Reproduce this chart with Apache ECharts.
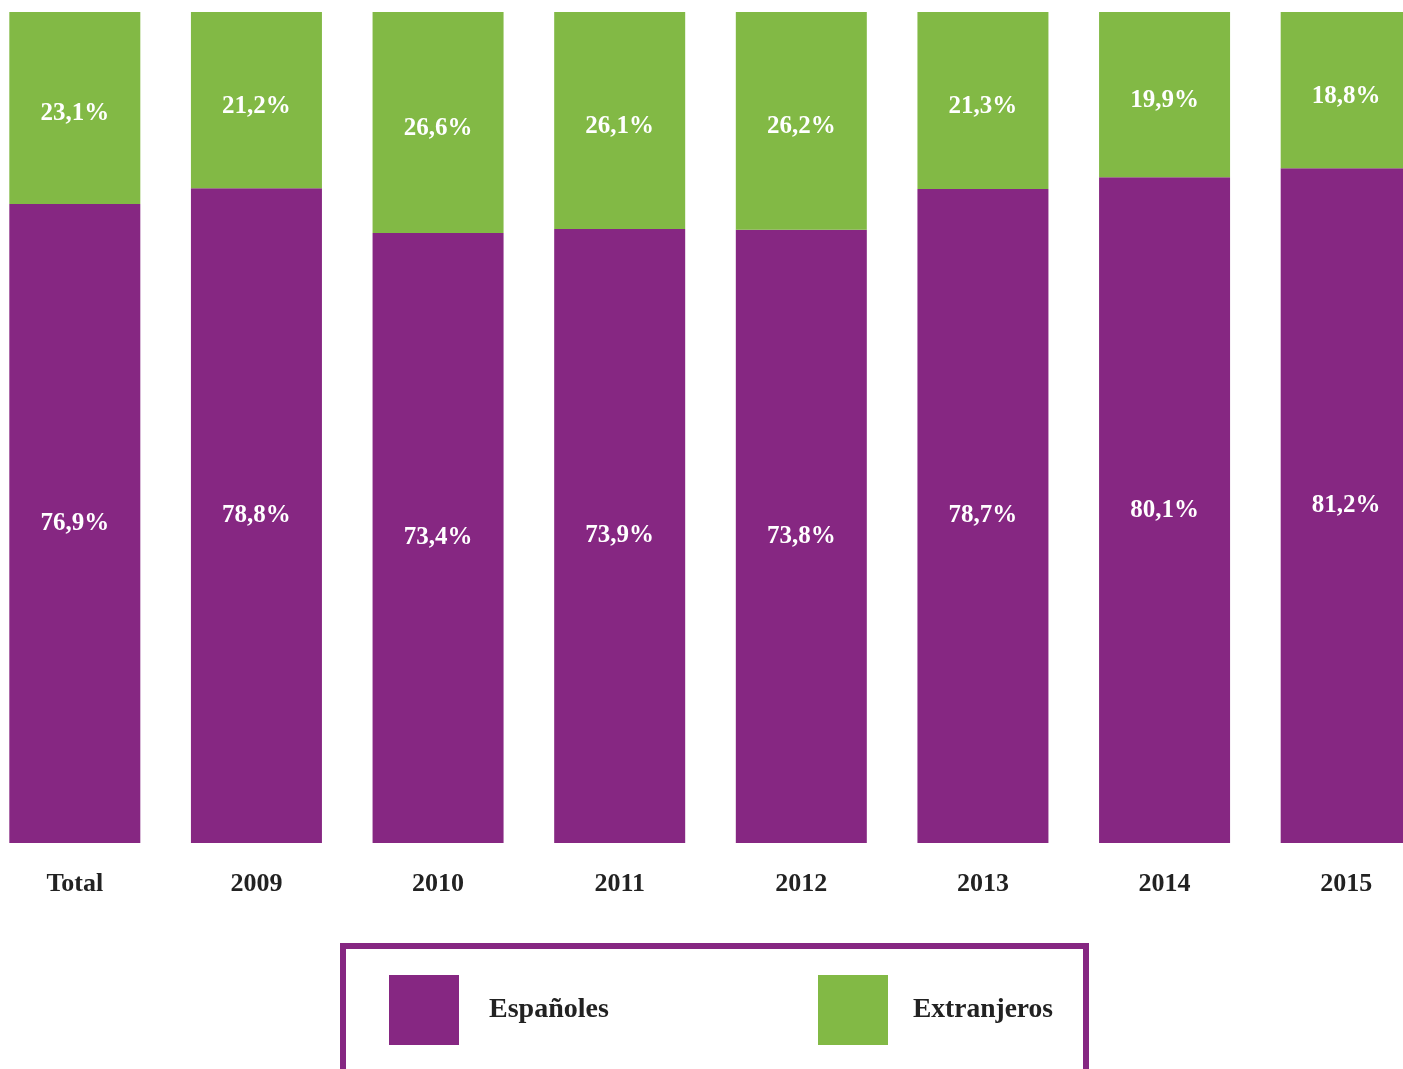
<!DOCTYPE html>
<html><head><meta charset="utf-8">
<script src="https://cdn.jsdelivr.net/npm/echarts@6/dist/echarts.min.js"></script>
<style>html,body{margin:0;padding:0;background:#fff;overflow:hidden;width:1403px;height:1069px;position:relative}
#c{position:absolute;left:-16px;top:0;width:1453px;height:1069px}</style>
</head><body><div id="c"></div>
<script>
const categories = ['Total','2009','2010','2011','2012','2013','2014','2015'];
const espanoles = [76.9, 78.8, 73.4, 73.9, 73.8, 78.7, 80.1, 81.2];
const extranjeros = [23.1, 21.2, 26.6, 26.1, 26.2, 21.3, 19.9, 18.8];
const seriesNames = ['Españoles','Extranjeros'];
const PURPLE = '#862782', GREEN = '#82b945';
const FONT = '"Liberation Serif", "DejaVu Serif", serif';
const OX = 16; // offset of the chart container
const chart = echarts.init(document.getElementById('c'), null, {renderer:'canvas'});
const lbl = {show:true, position:'inside', color:'#fff', fontFamily:FONT, fontWeight:'bold', fontSize:25,
  formatter: p => p.value.toFixed(1).replace('.', ',') + '%'};
chart.setOption({
  animation:false,
  grid:{left:0, right:0, top:12, bottom:226, containLabel:false},
  xAxis:{type:'category', data:categories, axisLine:{show:false}, axisTick:{show:false},
    axisLabel:{color:'#222', fontFamily:FONT, fontWeight:'bold', fontSize:26, margin:28}},
  yAxis:{type:'value', min:0, max:100, show:false, splitLine:{show:false}},
  legend:[
    {data:[seriesNames[0]], left:389+OX, top:975, padding:0, itemWidth:70, itemHeight:70, icon:'rect',
      textStyle:{color:'#222', fontFamily:FONT, fontWeight:'bold', fontSize:28, padding:[0,0,0,25]}},
    {data:[seriesNames[1]], left:818+OX, top:975, padding:0, itemWidth:70, itemHeight:70, icon:'rect',
      textStyle:{color:'#222', fontFamily:FONT, fontWeight:'bold', fontSize:27.5, padding:[0,0,0,20]}}
  ],
  graphic:[{type:'rect', shape:{x:343+OX, y:946, width:743, height:140}, style:{fill:'none', stroke:PURPLE, lineWidth:6}, z:-1}],
  series:[
    {name:seriesNames[0], type:'bar', stack:'a', data:espanoles, barWidth:131, itemStyle:{color:PURPLE}, label:lbl},
    {name:seriesNames[1], type:'bar', stack:'a', data:extranjeros, barWidth:131, itemStyle:{color:GREEN},
      label:Object.assign({}, lbl, {offset:[0,6]})}
  ]
});
</script></body></html>
